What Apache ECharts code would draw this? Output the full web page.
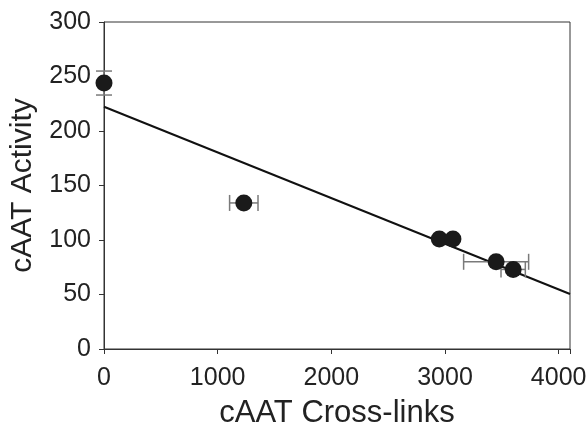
<!DOCTYPE html>
<html>
<head>
<meta charset="utf-8">
<script src="https://cdn.jsdelivr.net/npm/echarts@6/dist/echarts.min.js"></script>
<style>
  html, body { margin: 0; padding: 0; background: #fff; }
  #chart { width: 588px; height: 424px; }
</style>
</head>
<body>
<div id="chart"></div>
<script>
const crossLinks = [0, 1230, 2950, 3070, 3450, 3600];
const activity = [244, 134, 101, 101, 80, 73];
const crossLinksErr = [0, 125, 0, 0, 286, 107];
const activityErr = [11, 0, 0, 0, 0, 0];

// regression line end points
const fitX = [0, 4100];
const fitY = [222.2, 50.5];

const xTicks = [0, 1000, 2000, 3000, 4000];

const chart = echarts.init(document.getElementById('chart'));

const points = crossLinks.map((x, i) => [x, activity[i]]);
const errData = crossLinks.map((x, i) => [x, activity[i], crossLinksErr[i], activityErr[i]]);

// error bars drawn with a custom series
const renderErr = (params, api) => {
  const x = api.value(0);
  const y = api.value(1);
  const dx = api.value(2);
  const dy = api.value(3);
  const cap = 8;
  const style = { stroke: '#7a7a7a', lineWidth: 1.5 };
  const children = [];
  if (dx > 0) {
    const l = api.coord([x - dx, y]);
    const r = api.coord([x + dx, y]);
    children.push({ type: 'line', shape: { x1: l[0], y1: l[1], x2: r[0], y2: r[1] }, style });
    children.push({ type: 'line', shape: { x1: l[0], y1: l[1] - cap, x2: l[0], y2: l[1] + cap }, style });
    children.push({ type: 'line', shape: { x1: r[0], y1: r[1] - cap, x2: r[0], y2: r[1] + cap }, style });
  }
  if (dy > 0) {
    const t = api.coord([x, y + dy]);
    const b = api.coord([x, y - dy]);
    children.push({ type: 'line', shape: { x1: t[0], y1: t[1], x2: b[0], y2: b[1] }, style });
    children.push({ type: 'line', shape: { x1: t[0] - cap, y1: t[1], x2: t[0] + cap, y2: t[1] }, style });
    children.push({ type: 'line', shape: { x1: b[0] - cap, y1: b[1], x2: b[0] + cap, y2: b[1] }, style });
  }
  return { type: 'group', children };
};

const fontFamily = '"Liberation Sans", Arial, sans-serif';

const option = {
  animation: false,
  grid: {
    left: 104,
    right: 18,
    top: 22,
    bottom: 75,
    outerBoundsMode: 'none',
    show: true,
    borderColor: '#333',
    borderWidth: 1,
  },
  xAxis: {
    type: 'value',
    min: 0,
    max: 4100,
    interval: 1000,
    name: 'cAAT Cross-links',
    nameLocation: 'middle',
    nameGap: 49,
    nameTextStyle: { fontSize: 31, color: '#222', fontFamily },
    axisLine: { lineStyle: { color: '#333', width: 1 } },
    axisTick: { length: 5, lineStyle: { color: '#333' } },
    axisLabel: {
      fontSize: 25,
      color: '#222',
      fontFamily,
      margin: 17,
      formatter: v => (xTicks.includes(v) ? String(v) : ''),
    },
    splitLine: { show: false },
  },
  yAxis: {
    type: 'value',
    min: 0,
    max: 300,
    interval: 50,
    name: 'cAAT Activity',
    nameLocation: 'middle',
    nameGap: 66,
    nameTextStyle: { fontSize: 30, color: '#222', fontFamily },
    axisLine: { show: true, lineStyle: { color: '#333', width: 1 } },
    axisTick: { show: true, length: 5, lineStyle: { color: '#333' } },
    axisLabel: { fontSize: 25, color: '#222', fontFamily, margin: 13 },
    splitLine: { show: false },
  },
  series: [
    {
      type: 'line',
      data: fitX.map((x, i) => [x, fitY[i]]),
      symbol: 'none',
      lineStyle: { color: '#111', width: 2 },
      z: 2,
    },
    {
      type: 'custom',
      data: errData,
      renderItem: renderErr,
      z: 3,
    },
    {
      type: 'scatter',
      data: points,
      symbol: 'circle',
      symbolSize: 17,
      itemStyle: { color: '#1a1a1a', opacity: 1 },
      z: 4,
    },
  ],
};

chart.setOption(option);
</script>
</body>
</html>
